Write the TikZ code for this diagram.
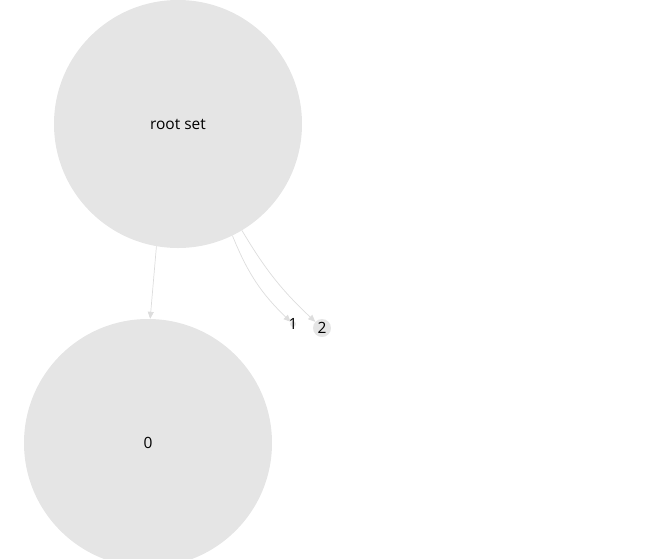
\documentclass[tikz,border=0pt]{standalone}
\usepackage{fontspec}
\setmainfont{Open Sans}
\usetikzlibrary{arrows.meta}
\definecolor{nodefill}{HTML}{E5E5E5}
\definecolor{edgecol}{HTML}{DDDDDD}
\begin{document}
\begin{tikzpicture}[x=1pt,y=1pt,
  vnode/.style={circle,fill=nodefill,draw=none,inner sep=0pt},
  vlabel/.style={inner sep=0pt,font=\fontsize{15.5}{18}\selectfont},
  edge/.style={draw=edgecol,line width=0.7pt,-{Triangle[width=6pt,length=7pt,fill=edgecol]}}]
\useasboundingbox (0,0) rectangle (667,-558);
\node[vnode,minimum size=248pt] (root) at (178,-124) {};
\node[vlabel] (lroot) at (root) {root set};
\node[vnode,minimum size=248pt] (n0) at (148,-443) {};
\node[vlabel] (l0) at (n0) {0};
\node[vnode,minimum size=6pt] (n1) at (293,-324) {};
\node[vlabel] (l1) at (n1) {1};
\node[vnode,minimum size=18pt] (n2) at (322,-328) {};
\node[vlabel] (l2) at (n2) {2};
\draw[edge] (root.260) -- (n0.89);
\draw[edge] (root.296) to[bend right=12] (n1);
\draw[edge] (root.301) to[bend right=8] (n2);
\end{tikzpicture}
\end{document}
